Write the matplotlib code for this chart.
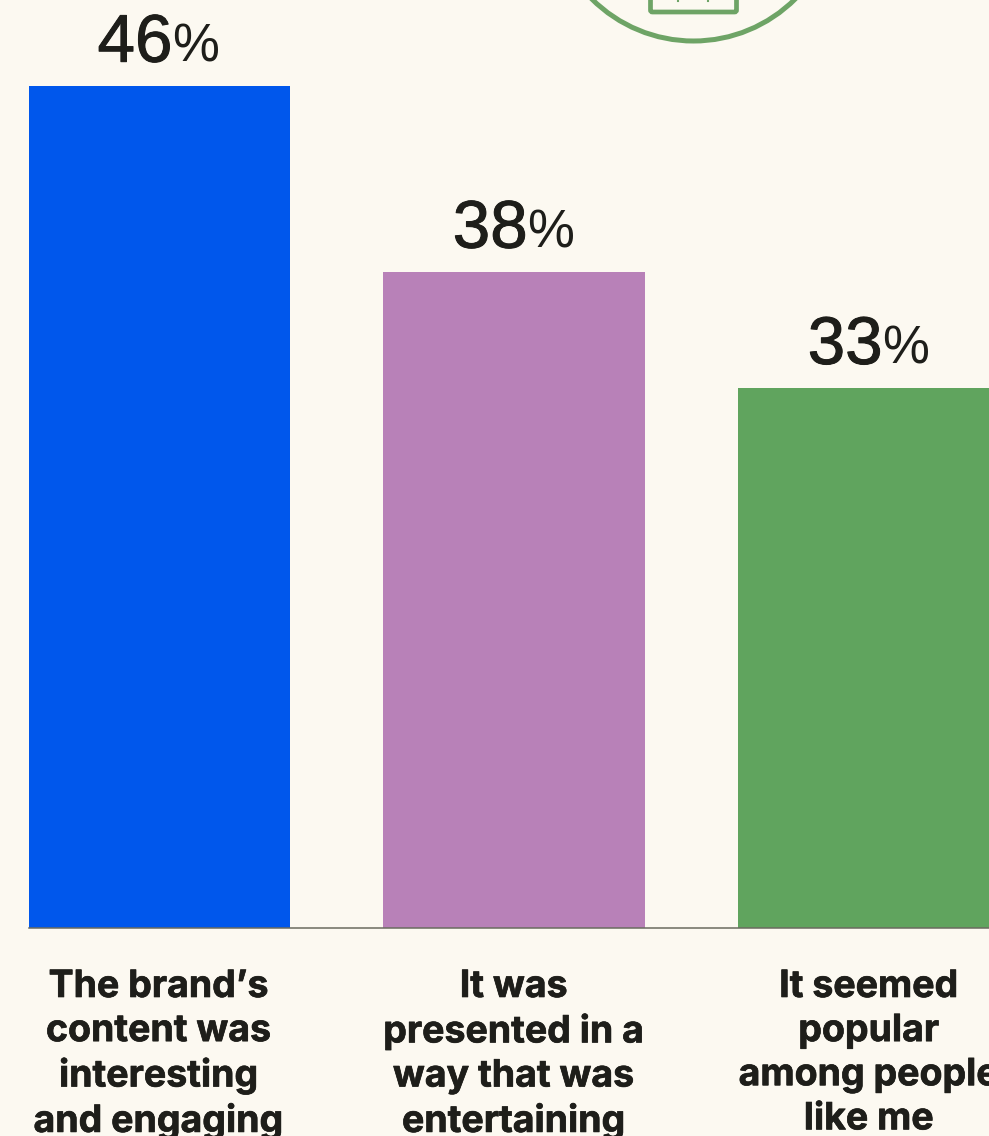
import matplotlib
matplotlib.use("Agg")
from matplotlib import pyplot as plt
from matplotlib import patheffects
from matplotlib.patches import Circle, FancyBboxPatch

W, H = 989, 1136
BG = "#FCF9F1"
INK = "#1E1E1A"
RING = "#6EA466"

labels = [
    "The brand\u2019s\ncontent was\ninteresting\nand engaging",
    "It was\npresented in a\nway that was\nentertaining",
    "It seemed\npopular\namong people\nlike me",
]
values = [46, 38, 33]
colors = ["#0057EC", "#B881B8", "#60A45E"]

# axis does not start at zero
y_base = 9.78
y_top = 49.7

fig = plt.figure(figsize=(W / 100, H / 100), dpi=100, facecolor=BG)


def box(x0, y0, x1, y1):
    return [x0 / W, 1 - y1 / H, (x1 - x0) / W, (y1 - y0) / H]


# icon sits above the bars, cut off by the top edge
deco = fig.add_axes([0, 0, 1, 1])
deco.set_xlim(0, W)
deco.set_ylim(H, 0)
deco.axis("off")
deco.add_patch(Circle((693.5, -103), 144, fill=False, ec=RING, lw=3.6))
deco.add_patch(FancyBboxPatch((650.5, -30), 86, 42, boxstyle="round,pad=0,rounding_size=2",
                              fill=False, ec=RING, lw=3.4))
deco.plot([678, 678], [-3, 0.5], c=RING, lw=1.5)
deco.plot([708, 708], [-3, 0.5], c=RING, lw=1.5)

ax = fig.add_axes(box(28.5, 0, W, 928))
ax.patch.set_alpha(0)
x = range(len(values))
ax.bar(x, values, width=0.738, color=colors)
ax.set_xlim(-0.3665, 2.3385)
ax.set_ylim(y_base, y_top)
ax.set_yticks([])
for side in ["top", "left", "right"]:
    ax.spines[side].set_visible(False)
ax.spines["bottom"].set_color("#6B6B60")
ax.spines["bottom"].set_linewidth(1.1)
ax.set_xticks(list(x), labels, fontfamily="Inter", fontweight="bold", fontsize=27.0,
              color=INK, linespacing=1.29)
ax.tick_params(axis="x", length=0, pad=29.5)
for tick in ax.get_xticklabels():
    tick.set_path_effects([patheffects.withStroke(linewidth=0.5, foreground=INK)])

thicker = [patheffects.withStroke(linewidth=0.7, foreground=INK)]
for i, v in enumerate(values):
    ax.annotate(str(v), (i, v), xytext=(10, 17.5), textcoords="offset points", ha="right",
                va="baseline", fontfamily="Liberation Sans", fontsize=48.5, color=INK,
                annotation_clip=False, path_effects=thicker)
    ax.annotate("%", (i, v), xytext=(9.6, 17.5), textcoords="offset points", ha="left",
                va="baseline", fontfamily="Liberation Sans", fontsize=38, color=INK,
                annotation_clip=False)

fig.savefig("out.png", dpi=100, facecolor=BG)
